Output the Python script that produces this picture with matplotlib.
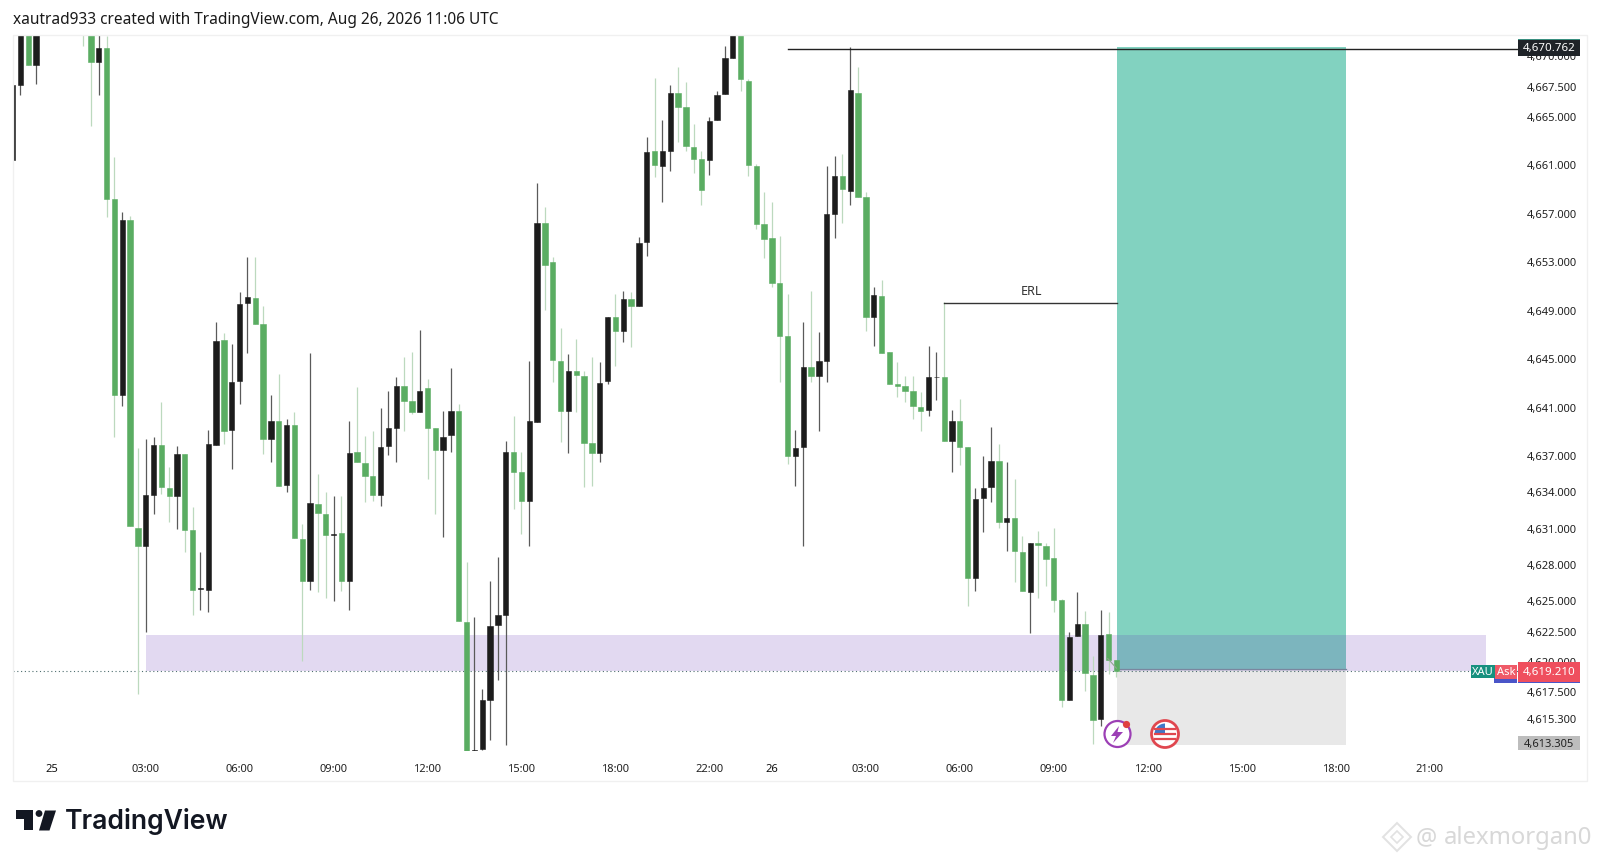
import matplotlib
matplotlib.use("Agg")
import matplotlib.pyplot as plt
from matplotlib.patches import Rectangle, Circle, Polygon, Wedge

plt.rcParams['font.family'] = ['Noto Sans', 'DejaVu Sans']

# 15 min candles, index 0 = 03:00 on the 25th. bars -13..-9 are above the visible range
bar_index = list(range(-17, -13)) + list(range(-8, 125))

opens = [
    4661.39, 4667.58, 4672.5, 4669.21,
    4673.2, 4672.5, 4669.43, 4670.64, 4658.14, 4641.96, 4656.44, 4630.98,
    4629.46, 4633.70, 4637.83, 4634.28, 4633.59, 4637.09, 4630.84, 4625.94, 4625.88, 4637.83,
    4646.53, 4639.09, 4643.09, 4649.55, 4649.94, 4647.82, 4638.32, 4639.78, 4634.53, 4639.51,
    4630.07, 4626.57, 4632.96, 4632.13, 4630.42, 4630.54, 4626.57, 4637.22, 4636.34, 4635.24,
    4633.73, 4637.72, 4639.23, 4642.73, 4641.49, 4640.58, 4642.51, 4639.21, 4637.44, 4638.65,
    4640.66, 4623.24, 4612.59, 4612.73, 4616.77, 4622.97, 4623.79, 4637.22, 4635.57, 4633.18,
    4639.76, 4656.16, 4652.91, 4644.74, 4640.66, 4643.97, 4643.55, 4637.97, 4637.17, 4643.14,
    4648.43, 4647.21, 4649.86, 4649.28, 4654.56, 4662.08, 4660.89, 4662.13, 4666.87, 4665.77,
    4662.41, 4661.45, 4661.34, 4664.64, 4666.84, 4669.79, 4672.5, 4667.91, 4660.89, 4656.08,
    4654.89, 4651.21, 4646.86, 4636.89, 4637.69, 4644.24, 4643.50, 4644.79, 4656.90, 4660.07,
    4658.78, 4666.90, 4658.28, 4648.37, 4650.16, 4645.48, 4642.87, 4642.67, 4642.32, 4640.97,
    4640.72, 4643.42, 4643.47, 4638.16, 4639.78, 4637.64, 4626.87, 4633.42, 4634.33, 4636.48,
    4631.44, 4631.83, 4628.97, 4625.66, 4629.76, 4629.46, 4628.53, 4625.06, 4616.77, 4622.03,
    4623.08, 4618.86, 4615.20, 4622.19, 4620.10,
]
highs = [
    4667.58, 4673.0, 4672.8, 4673.0,
    4673.5, 4672.8, 4672.3, 4671.63, 4661.58, 4657.04, 4656.77, 4637.58,
    4638.32, 4638.46, 4641.35, 4635.98, 4637.77, 4637.09, 4632.68, 4628.97, 4639.09, 4647.96,
    4647.08, 4646.17, 4650.44, 4653.33, 4653.38, 4649.28, 4641.96, 4643.69, 4639.98, 4640.53,
    4631.31, 4645.43, 4635.43, 4633.92, 4633.59, 4633.59, 4639.78, 4642.59, 4638.60, 4639.01,
    4640.86, 4642.32, 4643.42, 4645.07, 4645.48, 4647.32, 4643.28, 4639.21, 4640.61, 4644.16,
    4641.21, 4628.20, 4623.60, 4617.68, 4626.63, 4628.55, 4638.13, 4640.25, 4637.28, 4644.79,
    4659.46, 4657.45, 4653.33, 4647.46, 4645.34, 4646.58, 4643.9, 4645.07, 4644.71, 4648.43,
    4650.30, 4650.52, 4650.44, 4654.98, 4663.23, 4668.11, 4664.69, 4667.56, 4669.01, 4667.78,
    4664.34, 4662.13, 4664.89, 4667.09, 4670.80, 4673.0, 4673.0, 4668.05, 4661.03, 4658.75,
    4657.92, 4655.11, 4650.30, 4639.09, 4647.96, 4650.52, 4647.19, 4660.89, 4661.72, 4661.86,
    4670.67, 4669.01, 4658.69, 4650.85, 4651.48, 4645.48, 4644.65, 4643.55, 4643.55, 4642.18,
    4646.03, 4645.54, 4649.61, 4640.75, 4641.63, 4637.64, 4634.25, 4636.95, 4639.29, 4637.91,
    4636.45, 4635.02, 4630.34, 4629.74, 4630.75, 4629.74, 4630.95, 4625.11, 4622.36, 4625.66,
    4624.15, 4620.43, 4624.20, 4624.07, 4620.10,
]
lows = [
    4661.39, 4666.76, 4669.21, 4667.64,
    4670.80, 4664.14, 4666.76, 4656.63, 4638.46, 4641.02, 4631.17, 4617.27,
    4622.36, 4632.13, 4633.78, 4631.44, 4630.89, 4628.97, 4623.79, 4624.23, 4624.01, 4637.83,
    4637.91, 4635.85, 4641.21, 4645.43, 4647.85, 4637.09, 4636.45, 4634.47, 4633.92, 4630.12,
    4620.02, 4625.88, 4625.72, 4625.17, 4624.97, 4625.75, 4624.23, 4636.40, 4633.09, 4633.23,
    4632.76, 4637.00, 4636.45, 4639.01, 4640.39, 4640.53, 4635.02, 4632.13, 4630.20, 4637.22,
    4623.27, 4612.18, 4612.2, 4612.67, 4613.50, 4618.42, 4613.08, 4632.54, 4630.48, 4629.46,
    4639.76, 4649.00, 4643.00, 4638.05, 4637.17, 4640.53, 4634.33, 4634.47, 4636.40, 4642.87,
    4644.38, 4646.36, 4645.89, 4649.28, 4653.41, 4659.93, 4657.87, 4660.43, 4662.82, 4662.13,
    4660.29, 4657.65, 4660.12, 4664.64, 4666.84, 4669.79, 4667.09, 4660.07, 4655.66, 4653.24,
    4650.85, 4643.00, 4636.26, 4634.42, 4629.52, 4643.00, 4639.01, 4643.00, 4654.89, 4656.16,
    4657.67, 4658.31, 4647.27, 4646.03, 4645.43, 4642.87, 4641.76, 4641.35, 4639.98, 4639.01,
    4640.25, 4641.57, 4638.16, 4635.63, 4636.18, 4624.56, 4625.80, 4630.67, 4633.15, 4630.95,
    4629.05, 4626.54, 4625.77, 4622.31, 4625.17, 4626.16, 4624.01, 4616.17, 4616.77, 4622.03,
    4617.54, 4613.14, 4614.60, 4618.92, 4618.64,
]
closes = [
    4667.58, 4672.5, 4669.21, 4672.5,
    4672.5, 4669.43, 4670.64, 4658.14, 4641.96, 4656.44, 4631.17, 4629.46,
    4633.70, 4637.83, 4634.33, 4633.64, 4637.09, 4630.84, 4625.88, 4625.99, 4637.88, 4646.42,
    4639.01, 4643.00, 4649.50, 4650.02, 4647.85, 4638.32, 4639.78, 4634.47, 4639.51, 4630.12,
    4626.57, 4633.04, 4632.21, 4630.42, 4630.51, 4626.57, 4637.14, 4636.40, 4635.24, 4633.73,
    4637.64, 4639.21, 4642.73, 4641.49, 4640.53, 4642.32, 4639.21, 4637.44, 4638.46, 4640.66,
    4623.27, 4612.18, 4612.67, 4616.77, 4622.91, 4623.82, 4637.22, 4635.57, 4633.23, 4639.78,
    4656.16, 4652.69, 4644.85, 4640.66, 4643.97, 4643.61, 4637.99, 4637.17, 4642.95, 4648.43,
    4647.21, 4649.86, 4649.28, 4654.51, 4662.00, 4660.95, 4662.13, 4666.87, 4665.77, 4662.49,
    4661.45, 4658.91, 4664.61, 4666.76, 4669.79, 4672.5, 4668.05, 4660.95, 4656.08, 4654.84,
    4651.21, 4646.86, 4636.95, 4637.58, 4644.24, 4643.50, 4644.79, 4656.88, 4660.07, 4658.97,
    4667.12, 4658.31, 4648.37, 4650.24, 4645.43, 4642.87, 4642.67, 4642.32, 4641.02, 4640.64,
    4643.42, 4643.47, 4638.16, 4639.78, 4637.64, 4626.82, 4633.37, 4634.28, 4636.48, 4631.44,
    4631.83, 4629.08, 4625.77, 4629.74, 4629.57, 4628.42, 4625.03, 4616.77, 4622.00, 4623.08,
    4619.00, 4615.09, 4622.17, 4620.10, 4619.14,
]

# time axis
time_pos = [-12, 0, 12, 24, 36, 48, 60, 72, 80, 92, 104, 116, 128, 140, 152, 164]
time_labels = ["25", "03:00", "06:00", "09:00", "12:00", "15:00", "18:00", "22:00", "26",
               "03:00", "06:00", "09:00", "12:00", "15:00", "18:00", "21:00"]

# price axis
price_ticks = [4670, 4667.5, 4665, 4661, 4657, 4653, 4649, 4645, 4641, 4637, 4634, 4631,
               4628, 4625, 4622.5, 4620, 4617.5, 4615.3]

# drawings on the chart
target_price = 4670.762
last_price = 4619.21
stop_price = 4613.305
entry_price = 4619.31
zone_top = 4622.16
zone_bottom = 4619.16
erl_price = 4649.58

GREEN = '#5aad62'
BLACK = '#1c1c1c'
GREEN_WICK = '#bcd9be'
BLACK_WICK = '#5a5a5a'

W, H = 1600, 862
PANE_L, PANE_R, PANE_T, PANE_B = 13.3, 1518, 37, 751.7
Y_MAX, Y_MIN = 4671.60, 4612.59
X_MIN, X_MAX = -16.91, 175.3

fig = plt.figure(figsize=(16, 8.62), dpi=100, facecolor='white')
ax = fig.add_axes([PANE_L / W, 1 - PANE_B / H, (PANE_R - PANE_L) / W, (PANE_B - PANE_T) / H])
ax.set_xlim(X_MIN, X_MAX)
ax.set_ylim(Y_MIN, Y_MAX)
for s in ax.spines.values():
    s.set_visible(False)

# risk/reward box and zone
ax.add_patch(Rectangle((124.1, entry_price), 153.3 - 124.1, target_price - 0.07 - entry_price,
                       color='#82d2c0', lw=0, zorder=1))
ax.add_patch(Rectangle((124.1, stop_price - 0.24), 153.3 - 124.1, entry_price - stop_price + 0.24,
                       color='#e8e8e8', lw=0, zorder=1))
ax.plot([124.1, 153.3], [entry_price, entry_price], color='#7f9a9a', lw=0.9, zorder=1.5)
ax.add_patch(Rectangle((0.1, zone_bottom), 171.2 - 0.1, zone_top - zone_bottom,
                       color='#673ab7', alpha=0.19, lw=0, zorder=2))

ax.axhline(last_price - 0.08, color='#4f6f70', lw=0.8, ls=(0, (1, 2.4)), zorder=2)

# candles
wick_cols = [GREEN_WICK if c < o else BLACK_WICK for o, c in zip(opens, closes)]
body_cols = [GREEN if c < o else BLACK for o, c in zip(opens, closes)]
ax.vlines(bar_index, lows, highs, colors=wick_cols, lw=0.9, zorder=3)
body_bottom = [min(o, c) for o, c in zip(opens, closes)]
body_height = [abs(o - c) for o, c in zip(opens, closes)]
ax.bar(bar_index, body_height, bottom=body_bottom, width=0.68, color=body_cols,
       edgecolor=body_cols, lw=0.4, zorder=4)

# lines
ax.plot([82.1, X_MAX], [target_price - 0.26, target_price - 0.26], color='#222222', lw=1.0, zorder=5)
ax.plot([102, 124.1], [erl_price, erl_price], color='#333333', lw=1.0, zorder=5)
ax.text(113.1, erl_price + 0.45, "ERL", ha='center', va='bottom', fontsize=9, color='#333333', zorder=6)
ax.plot([122.9, 124], [4620.2, 4619.4], color='#8fa58f', lw=0.8, zorder=5)

# ticks
ax.set_xticks(time_pos)
ax.set_xticklabels(time_labels, fontsize=8, color='#222222')
ax.yaxis.tick_right()
ax.set_yticks(price_ticks)
ax.set_yticklabels(["{:,.3f}".format(p) for p in price_ticks], fontsize=8, color='#222222')
ax.tick_params(axis='both', length=0)
ax.tick_params(axis='x', pad=8.5)
ax.tick_params(axis='y', pad=6.5)
for lab in ax.get_xticklabels():
    if lab.get_text() in ("25", "26"):
        lab.set_fontweight('bold')
        lab.set_color('#111111')

# overlay in pixel coordinates for title, tags, icons, logo
ov = fig.add_axes([0, 0, 1, 1], zorder=10)
ov.set_xlim(0, W)
ov.set_ylim(H, 0)
ov.axis('off')


def price_y(p):
    return PANE_T + (Y_MAX - p) / (Y_MAX - Y_MIN) * (PANE_B - PANE_T)


def tag(x0, x1, y0, y1, col, text=None, tcol='white', size=8, weight='normal', tx=None):
    ov.add_patch(Rectangle((x0, y0), x1 - x0, y1 - y0, color=col, lw=0))
    if text:
        ov.text(tx if tx else (x0 + x1) / 2, (y0 + y1) / 2, text, color=tcol, fontsize=size,
                ha='center', va='center', fontweight=weight)


ov.add_patch(Rectangle((PANE_L, 36), 1587 - PANE_L, 746, fill=False, ec='#f0f0f0', lw=1))
ov.text(13, 20, "xautrad933 created with TradingView.com, Aug 26, 2026 11:06 UTC",
        fontsize=11.1, color='#1a1a1a', ha='left', va='center')

y = price_y(target_price)
tag(1518, 1580, y - 7, y + 10, '#1f2328', "{:,.3f}".format(target_price), size=8.3, weight='bold')
ov.add_patch(Rectangle((1518, y - 7), 62, 1.2, color='#3a8f80', lw=0))

y = price_y(last_price)
tag(1494, 1517, y + 3, y + 12, '#4a55c8')
tag(1471, 1495, y - 6, y + 7, '#17917f', "XAU", size=8)
tag(1495, 1517, y - 6, y + 8, '#ef5a68', "Ask", size=8)
tag(1518, 1580, y - 9, y + 11, '#ef4f5e', "{:,.3f}".format(last_price), size=8.3, weight='bold')
ov.add_patch(Rectangle((1518, y + 11), 62, 1.5, color='#4a55c8', lw=0))

y = price_y(stop_price)
tag(1518, 1580, y - 6, y + 8, '#bdbdbd', "{:,.3f}".format(stop_price), tcol='#222222', size=8)

# event icons at the bottom of the pane
ov.add_patch(Circle((1117.5, 735), 13, fc='white', ec='#9c3fb5', lw=1.6))
ov.add_patch(Polygon([(1119, 727), (1111, 737), (1116, 737), (1113, 744), (1123, 733), (1117.5, 733)],
                     color='#9c3fb5', lw=0))
ov.add_patch(Circle((1126.5, 725.5), 3.6, color='#e04040', lw=0))
ov.add_patch(Circle((1165, 735), 13.5, fc='white', ec='#e0474f', lw=2))
for dy in (-5, 0, 5):
    ov.plot([1155, 1175], [735 + dy, 735 + dy], color='#e0474f', lw=1.6)
ov.add_patch(Wedge((1165, 735), 10.5, 180, 270, color='#3f78c9', lw=0))

# TradingView logo
ov.add_patch(Polygon([(16, 811.5), (32.7, 811.5), (32.7, 831.5), (24, 831.5), (24, 820), (16, 820)],
                     color='#131722', lw=0))
ov.add_patch(Circle((39, 814.5), 3.4, color='#131722', lw=0))
ov.add_patch(Polygon([(45, 811.5), (56, 811.5), (49.5, 831.5), (39, 831.5)], color='#131722', lw=0))
ov.text(65, 822, "TradingView", fontsize=19.1, color='#131722', fontweight='semibold',
        family=['Inter', 'DejaVu Sans'], ha='left', va='center')

# watermark
ov.add_patch(Polygon([(1397, 824), (1411, 838), (1397, 852), (1383, 838)], fill=False, ec='#e2e2e2', lw=1.4))
ov.add_patch(Polygon([(1397, 832), (1403, 838), (1397, 844), (1391, 838)], fill=False, ec='#e2e2e2', lw=1.2))
ov.text(1416, 838, "@", fontsize=17, color='#d8d8d8', ha='left', va='center')
ov.text(1444, 838, "alexmorgan0", fontsize=17.2, color='#d8d8d8', ha='left', va='center', fontweight='light')

fig.savefig("out.png", dpi=100, facecolor='white')
